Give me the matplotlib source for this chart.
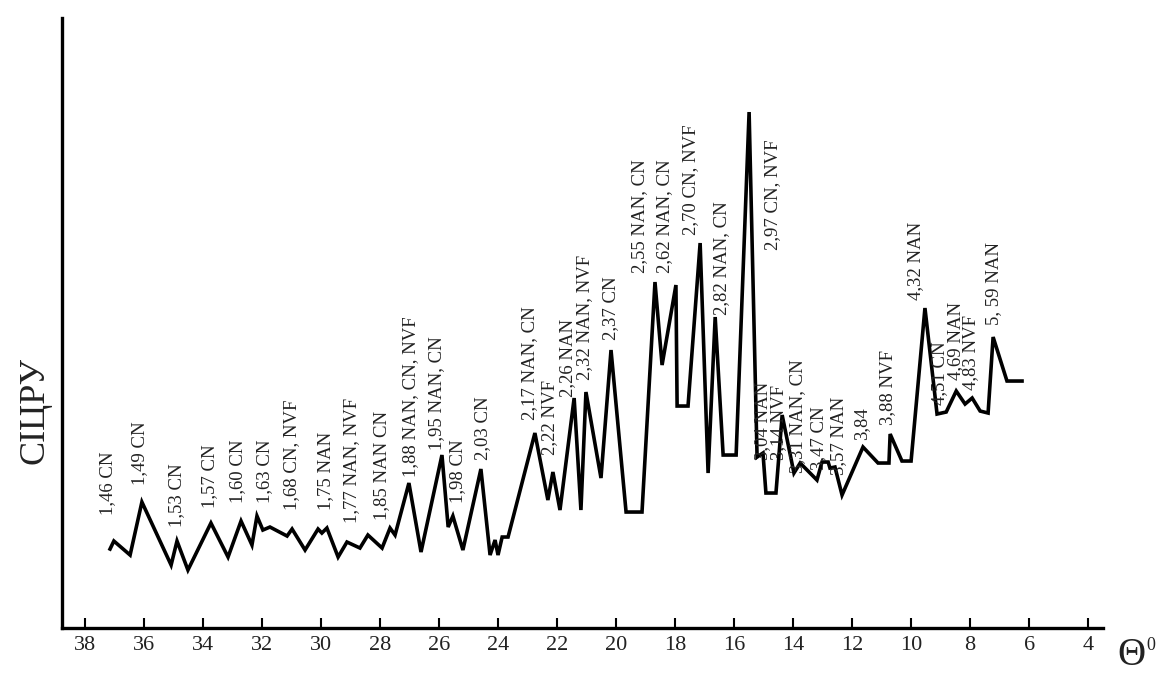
import numpy as np
import matplotlib
matplotlib.use('Agg')
import matplotlib.pyplot as plt

plt.rcParams['font.family'] = ['Liberation Serif', 'DejaVu Serif']

# diffraction angle (theta, deg) and relative intensity
theta = [37.15, 37.02, 36.47, 36.07, 35.08, 34.88, 34.51, 33.73, 33.15, 32.71,
         32.34, 32.17, 31.97, 31.73, 31.15, 30.98, 30.54, 30.10, 29.97, 29.80,
         29.42, 29.12, 28.68, 28.41, 27.93, 27.66, 27.49, 27.02, 26.61, 25.90,
         25.69, 25.53, 25.19, 24.58, 24.27, 24.10, 24.00, 23.86, 23.66, 22.75,
         22.31, 22.14, 21.90, 21.42, 21.19, 21.02, 20.51, 20.17, 19.66, 19.12,
         18.68, 18.44, 17.97, 17.93, 17.56, 17.15, 16.88, 16.64, 16.37, 15.93,
         15.49, 15.22, 15.02, 14.92, 14.58, 14.37, 13.97, 13.76, 13.19, 13.02,
         12.81, 12.75, 12.58, 12.34, 11.63, 11.12, 10.75, 10.71, 10.31, 10.00,
         9.53, 9.12, 8.81, 8.47, 8.17, 7.93, 7.66, 7.39, 7.22, 6.75, 6.24]
intensity = [79, 87, 73, 126, 63, 87, 58, 105, 71, 107,
             83, 112, 98, 101, 92, 99, 78, 99, 95, 100,
             71, 86, 80, 93, 80, 100, 93, 145, 76, 173,
             101, 112, 78, 159, 73, 88, 73, 91, 91, 195,
             128, 156, 118, 230, 118, 236, 150, 278, 116, 116,
             346, 263, 343, 222, 222, 385, 155, 311, 173, 173,
             516, 171, 175, 135, 135, 213, 155, 165, 148, 166,
             166, 160, 161, 133, 181, 165, 165, 194, 167, 167,
             320, 214, 216, 237, 224, 230, 217, 215, 291, 247, 247]

# d-spacing labels with phase ids
peak_labels = ['1,46 CN', '1,49 CN', '1,53 CN', '1,57 CN', '1,60 CN', '1,63 CN',
               '1,68 CN, NVF', '1,75 NAN', '1,77 NAN, NVF', '1,85 NAN CN',
               '1,88 NAN, CN, NVF', '1,95 NAN, CN', '1,98 CN', '2,03 CN',
               '2,17 NAN, CN', '2,22 NVF', '2,26 NAN', '2,32 NAN, NVF', '2,37 CN',
               '2,55 NAN, CN', '2,62 NAN, CN', '2,70 CN, NVF', '2,82 NAN, CN',
               '2,97 CN, NVF', '3,04 NAN', '3,14 NVF', '3,31 NAN, CN', '3,47 CN',
               '3,57 NAN', '3,84', '3,88 NVF', '4,32 NAN', '4,51 CN', '4,69 NAN',
               '4,83 NVF', '5, 59 NAN']

# where each label starts (theta, height)
label_pos = [(37.22, 113), (36.14, 143), (34.88, 101), (33.76, 120), (32.81, 125),
             (31.90, 125), (30.98, 118), (29.86, 118), (28.95, 105), (27.93, 108),
             (26.98, 151), (26.07, 178), (25.36, 125), (24.51, 168), (22.92, 208),
             (22.24, 173), (21.63, 231), (21.05, 248), (20.20, 288), (19.19, 355),
             (18.37, 355), (17.49, 393), (16.41, 313), (14.71, 378), (15.02, 168),
             (14.50, 168), (13.86, 155), (13.15, 158), (12.47, 153), (11.66, 188),
             (10.78, 203), (9.86, 328), (9.02, 223), (8.50, 248), (7.98, 238),
             (7.22, 303)]

xticks = np.arange(38, 3, -2)

fig = plt.figure(figsize=(11.6, 6.78), dpi=100)
ax = fig.add_axes([0.0534, 0.0737, 0.8976, 0.8997])

ax.plot(theta, intensity, color='black', lw=2.6, solid_joinstyle='miter')

for txt, (x, y) in zip(peak_labels, label_pos):
    ax.text(x, y, txt, rotation=90, rotation_mode='anchor', ha='left', va='center',
            fontsize=13.5, color='#222222')

ax.set_xlim(38.78, 3.49)
ax.set_ylim(0, 610)
ax.set_xticks(xticks)
ax.set_xticklabels([str(t) for t in xticks], fontsize=16, color='#222222')
ax.set_yticks([])
ax.tick_params(axis='x', direction='in', length=7, width=1.5, pad=6)
for s in ['top', 'right']:
    ax.spines[s].set_visible(False)
for s in ['left', 'bottom']:
    ax.spines[s].set_linewidth(2.4)

fig.text(0.030, 0.395, 'СІЦРУ', rotation=90, ha='center', va='center', fontsize=26,
         color='#222222')
fig.text(0.975, 0.006, 'Θ', ha='center', va='bottom', fontsize=28, color='#222222')
fig.text(0.992, 0.035, '0', ha='center', va='bottom', fontsize=13, color='#222222')

fig.savefig('out.png', dpi=100)
